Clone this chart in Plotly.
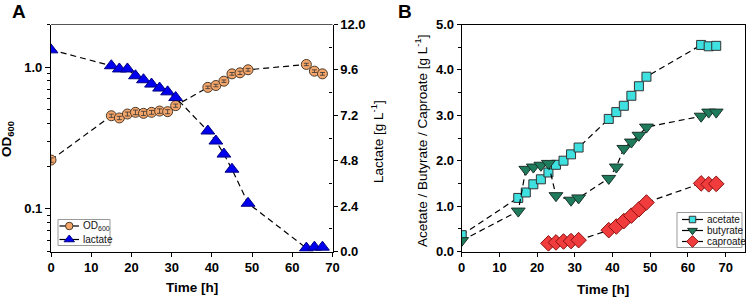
import plotly.graph_objects as go

# ---------------- data ----------------
# Panel A
od_time = [0, 15, 17, 19, 21, 23, 25, 27, 29, 31, 39, 41, 43, 45, 47, 49, 63.5, 65.5, 67.5]
od_values = [0.221, 0.454, 0.438, 0.467, 0.480, 0.472, 0.480, 0.490, 0.485, 0.535,
             0.720, 0.742, 0.796, 0.897, 0.912, 0.958, 1.045, 0.937, 0.897]
od_err = [0.008, 0.012, 0.012, 0.015, 0.018, 0.016, 0.015, 0.018, 0.016, 0.014,
          0.015, 0.015, 0.016, 0.02, 0.025, 0.022, 0.02, 0.02, 0.02]
lac_time = [0, 15, 17, 19, 21, 23, 25, 27, 29, 31, 39, 41, 43, 45, 49, 63.5, 65.5, 67.5]
lac_values = [10.66, 9.82, 9.65, 9.65, 9.29, 9.08, 8.85, 8.64, 8.44, 8.14,
              6.37, 5.84, 5.15, 4.35, 2.55, 0.18, 0.23, 0.23]

# Panel B
ace_time = [0, 15, 17, 19, 21, 23, 25, 27, 29, 31, 39, 41, 43, 45, 47, 49, 63.5, 65.5, 67.5]
ace_values = [0.36, 1.18, 1.30, 1.48, 1.59, 1.74, 1.91, 2.00, 2.14, 2.29,
              2.92, 3.07, 3.21, 3.43, 3.64, 3.85, 4.55, 4.52, 4.53]
but_time = [0, 15, 17, 19, 21, 23, 25, 29, 31, 39, 41, 43, 45, 47, 49, 63.5, 65.5, 67.5]
but_values = [0.24, 0.89, 1.81, 1.86, 1.90, 1.94, 1.23, 1.13, 1.18,
              1.61, 1.86, 2.27, 2.41, 2.56, 2.74, 2.98, 3.07, 3.07]
cap_time = [23, 25, 27, 29, 31, 39, 41, 43, 45, 47, 49, 63.5, 65.5, 67.5]
cap_values = [0.18, 0.20, 0.22, 0.23, 0.25, 0.47, 0.55, 0.67, 0.79, 0.93, 1.08, 1.50, 1.48, 1.49]

x_ticks = [0, 10, 20, 30, 40, 50, 60, 70]
lac_ticks = [0.0, 2.4, 4.8, 7.2, 9.6, 12.0]
acid_ticks = [0.0, 1.0, 2.0, 3.0, 4.0, 5.0]

legend_a_names = ["OD<sub>600</sub>", "lactate"]
legend_b_names = ["acetate", "butyrate", "caproate"]

# ---------------- figure ----------------
W, H = 747, 298
FONT = "Liberation Sans"
DASH = "6px,4px"

def px_x(p):
    return p / W

def px_y(p):
    return 1 - p / H

fig = go.Figure()

line_style = dict(color="black", width=1.2, dash=DASH)

styles = {
    "od": dict(symbol="circle", color="#F5A66A", line=dict(color="#4a3a2a", width=1)),
    "lac": dict(symbol="triangle-up", color="#0000EE", line=dict(color="#000080", width=1)),
    "ace": dict(symbol="square", color="#3EE0E0", line=dict(color="#333", width=1)),
    "but": dict(symbol="triangle-down", color="#1E7B5C", line=dict(color="#1a3328", width=1)),
    "cap": dict(symbol="diamond", color="#F03C3C", line=dict(color="#8B1010", width=1)),
}

fig.add_trace(go.Scatter(
    x=od_time, y=od_values, mode="lines+markers", name="OD600", showlegend=False,
    line=line_style, marker=dict(size=10, **styles["od"]), xaxis="x", yaxis="y"))
fig.add_trace(go.Scatter(
    x=od_time, y=od_values, mode="markers", showlegend=False, hoverinfo="skip",
    marker=dict(color="rgba(0,0,0,0)", size=1),
    error_y=dict(type="data", array=od_err, color="#333", thickness=0.8, width=2.5),
    xaxis="x", yaxis="y"))
fig.add_trace(go.Scatter(
    x=lac_time, y=lac_values, mode="lines+markers", name="lactate", showlegend=False,
    line=line_style, marker=dict(size=12, **styles["lac"]), xaxis="x", yaxis="y2"))

fig.add_trace(go.Scatter(
    x=ace_time, y=ace_values, mode="lines+markers", name="acetate", showlegend=False,
    line=line_style, marker=dict(size=9, **styles["ace"]), xaxis="x2", yaxis="y3"))
fig.add_trace(go.Scatter(
    x=but_time, y=but_values, mode="lines+markers", name="butyrate", showlegend=False,
    line=line_style, marker=dict(size=12, **styles["but"]), xaxis="x2", yaxis="y3"))
fig.add_trace(go.Scatter(
    x=cap_time, y=cap_values, mode="lines+markers", name="caproate", showlegend=False,
    line=line_style, marker=dict(size=12, **styles["cap"]), xaxis="x2", yaxis="y3"))

# ---------- compact legends (Origin style) on a pixel overlay axis ----------
def legend_box(names, keys, sizes, box, sym_x0, sym_x1, text_x, row_y):
    x0, y0, x1, y1 = box
    fig.add_shape(type="rect", xref="x3", yref="y4", x0=x0, y0=y0, x1=x1, y1=y1,
                  line=dict(color="#999", width=1), fillcolor="rgba(0,0,0,0)", layer="below")
    for name, key, sz, ry in zip(names, keys, sizes, row_y):
        xc = (sym_x0 + sym_x1) / 2
        fig.add_trace(go.Scatter(
            x=[sym_x0, xc, sym_x1], y=[ry, ry, ry], mode="lines+markers", showlegend=False,
            hoverinfo="skip", line=dict(color="black", width=1.2),
            marker=dict(size=sz, opacity=[0, 1, 0], **styles[key]),
            xaxis="x3", yaxis="y4"))
        fig.add_annotation(text=name, x=text_x, y=ry, xref="x3", yref="y4",
                           xanchor="left", yanchor="middle", showarrow=False,
                           font=dict(family=FONT, size=10, color="#111"))

legend_box(legend_a_names, ["od", "lac"], [7.5, 9],
           (58, 219.5, 110, 245.5), 59.5, 79, 81, [226, 239.5])
legend_box(legend_b_names, ["ace", "but", "cap"], [6.5, 8.5, 9],
           (677, 212.5, 742, 247.5), 682, 703, 704.5, [219.5, 230.5, 241.5])

tickfont = dict(family=FONT, size=13, color="black")

ydom = [px_y(251.5), px_y(24.5)]
xdomA = [px_x(51), px_x(332.5)]
xdomB = [px_x(461.7), px_x(744.5)]

common_x = dict(showgrid=False, zeroline=False, showline=True, linecolor="black", linewidth=1.2,
                ticks="outside", ticklen=4, tickwidth=1.2, tickcolor="black", automargin=False,
                tickvals=x_ticks, ticktext=["<b>%d</b>" % v for v in x_ticks], tickfont=tickfont)

log_minor = [0.05, 0.06, 0.07, 0.08, 0.09, 0.2, 0.3, 0.4, 0.5, 0.6, 0.7, 0.8, 0.9, 2.0]

fig.update_layout(
    width=W, height=H, margin=dict(l=0, r=0, t=0, b=0, autoexpand=False),
    paper_bgcolor="white", plot_bgcolor="rgba(0,0,0,0)",
    font=dict(family=FONT, color="black"),
    showlegend=False,
    xaxis=dict(domain=xdomA, range=[0, 70], anchor="y", **common_x),
    yaxis=dict(domain=ydom, type="log", range=[-1.30103, 0.30103], anchor="x", automargin=False,
               showgrid=False, zeroline=False, showline=True, linecolor="black", linewidth=1.2,
               ticks="outside", ticklen=5, tickwidth=1.2, tickcolor="black",
               tickvals=[0.1, 1.0], ticktext=["<b>0.1</b>", "<b>1.0</b>"], tickfont=tickfont,
               minor=dict(tickvals=log_minor, ticks="outside", ticklen=3, tickwidth=1, tickcolor="black")),
    yaxis2=dict(overlaying="y", side="right", anchor="x", range=[0, 12], automargin=False,
                showgrid=False, zeroline=False, showline=True, linecolor="black", linewidth=1.2,
                ticks="outside", ticklen=4, tickwidth=1.2, tickcolor="black",
                tickvals=lac_ticks, ticktext=["<b>%.1f</b>" % v for v in lac_ticks], tickfont=tickfont,
                minor=dict(tickvals=[1.2, 3.6, 6.0, 8.4, 10.8], ticks="inside", ticklen=3,
                           tickwidth=1, tickcolor="black")),
    xaxis2=dict(domain=xdomB, range=[0, 75], anchor="y3", mirror=True, **common_x),
    yaxis3=dict(domain=ydom, range=[0, 5], anchor="x2", mirror=True, automargin=False,
                showgrid=False, zeroline=False, showline=True, linecolor="black", linewidth=1.2,
                ticks="outside", ticklen=4, tickwidth=1.2, tickcolor="black",
                tickvals=acid_ticks, ticktext=["<b>%.1f</b>" % v for v in acid_ticks], tickfont=tickfont,
                minor=dict(tickvals=[0.5, 1.5, 2.5, 3.5, 4.5], ticks="outside", ticklen=2.5,
                           tickwidth=1, tickcolor="black")),
    # pixel overlay axis used only for the legend boxes
    xaxis3=dict(domain=[0, 1], range=[0, W], anchor="y4", visible=False, fixedrange=True),
    yaxis4=dict(domain=[0, 1], range=[H, 0], anchor="x3", visible=False, fixedrange=True),
)

# top border of panel A (grey)
fig.add_shape(type="line", xref="paper", yref="paper",
              x0=xdomA[0], x1=xdomA[1], y0=ydom[1], y1=ydom[1],
              line=dict(color="#555", width=1.2))

def label(text, x, y, size=13, angle=0):
    fig.add_annotation(text=text, x=px_x(x), y=px_y(y), xref="paper", yref="paper",
                       xanchor="center", yanchor="middle", textangle=angle,
                       showarrow=False, font=dict(family=FONT, size=size, color="black"))

# panel letters
label("<b>A</b>", 19, 12, size=19)
label("<b>B</b>", 405, 12, size=19)
# axis titles
label("<b>Time [h]</b>", 192, 287.5, size=13.5)
label("<b>Time [h]</b>", 603, 289, size=13.5)
label("<b>OD<sub>600</sub></b>", 8, 139, size=13.5, angle=-90)
label("Lactate [g L<sup>-1</sup>]", 377, 141, size=13.5, angle=-90)
label("Acetate / Butyrate / Caproate [g L<sup>-1</sup>]", 421, 141, size=13.5, angle=-90)

fig.write_html("out.html", config={"displayModeBar": False},
               post_script="document.body.style.margin='0';document.body.style.padding='0';")
